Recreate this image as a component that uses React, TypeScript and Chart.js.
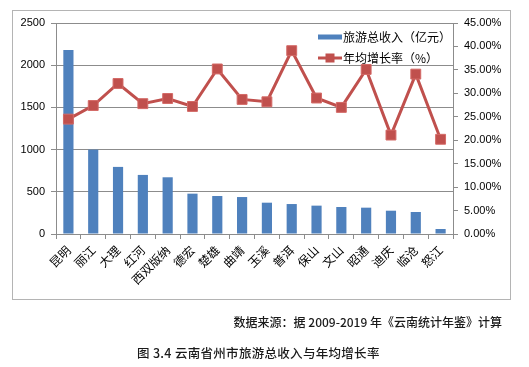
import React, { useEffect, useRef } from "react";
import { Chart, registerables } from "chart.js";

Chart.register(...registerables);

const categories = ["昆明", "丽江", "大理", "红河", "西双版纳", "德宏", "楚雄", "曲靖", "玉溪", "普洱", "保山", "文山", "昭通", "迪庆", "临沧", "怒江"];
const revenue = [2180, 1000, 795, 700, 672, 478, 450, 438, 371, 355, 336, 320, 312, 276, 261, 59];
const growth = [24.5, 27.4, 32.1, 27.8, 28.9, 27.2, 35.2, 28.7, 28.2, 39.1, 29.0, 27.0, 35.1, 21.1, 34.1, 20.2];
const seriesNames = ["旅游总收入（亿元）", "年均增长率（%）"];
const leftMax = 2500;
const leftStep = 500;
const rightMax = 45;
const rightStep = 5;
const sourceText = "数据来源：据 2009-2019 年《云南统计年鉴》计算";
const captionText = "图 3.4 云南省州市旅游总收入与年均增长率";

const BAR = "#4F81BD";
const LINE = "#C0504D";
const GRID = "#8c8c8c";
const CJK = "'Noto Sans CJK SC', sans-serif";
const NUM = "'Liberation Sans', Arial, sans-serif";

const legendPlugin = {
  id: "customLegend",
  afterDraw(chart: any) {
    const { ctx, chartArea } = chart;
    const x0 = chartArea.right - 135;
    const y1 = chartArea.top + 14;
    const y2 = chartArea.top + 35;
    ctx.save();
    ctx.fillStyle = BAR;
    ctx.fillRect(x0, y1 - 2.5, 24, 5);
    ctx.strokeStyle = LINE;
    ctx.lineWidth = 3;
    ctx.beginPath();
    ctx.moveTo(x0, y2);
    ctx.lineTo(x0 + 24, y2);
    ctx.stroke();
    ctx.fillStyle = LINE;
    ctx.fillRect(x0 + 12 - 4.5, y2 - 4.5, 9, 9);
    ctx.fillStyle = "#000";
    ctx.font = "12px " + CJK;
    ctx.textBaseline = "middle";
    ctx.textAlign = "left";
    ctx.fillText(seriesNames[0], x0 + 25, y1);
    ctx.fillText(seriesNames[1], x0 + 25, y2);
    ctx.restore();
  },
};

export default function App() {
  const ref = useRef<HTMLCanvasElement | null>(null);
  useEffect(() => {
    if (!ref.current) return;
    const chart = new Chart(ref.current, {
      type: "bar",
      data: {
        labels: categories,
        datasets: [
          {
            type: "line",
            label: seriesNames[1],
            data: growth,
            yAxisID: "y1",
            borderColor: LINE,
            backgroundColor: LINE,
            borderWidth: 3,
            pointStyle: "rect",
            pointRadius: 7,
            pointBorderWidth: 1,
            pointBorderColor: "#d46a67",
            pointBackgroundColor: LINE,
            tension: 0,
            order: 0,
          } as any,
          {
            type: "bar",
            label: seriesNames[0],
            data: revenue,
            yAxisID: "y",
            backgroundColor: BAR,
            borderWidth: 0,
            categoryPercentage: 1,
            barPercentage: 0.41,
            order: 1,
          } as any,
        ],
      },
      options: {
        responsive: false,
        animation: false,
        devicePixelRatio: 1,
        layout: { padding: { top: 23, left: 0, right: 0, bottom: 0 } },
        plugins: { legend: { display: false }, tooltip: { enabled: false } },
        scales: {
          x: {
            type: "category",
            offset: true,
            grid: { display: true, drawOnChartArea: false, drawTicks: true, tickLength: 5, offset: true, color: GRID },
            border: { display: true, color: GRID, width: 1 },
            ticks: {
              minRotation: 45,
              maxRotation: 45,
              autoSkip: false,
              padding: 4,
              color: "#000",
              font: { family: CJK, size: 12 },
            },
            afterFit: (s: any) => {
              s.height = 133;
            },
          },
          y: {
            position: "left",
            min: 0,
            max: leftMax,
            ticks: {
              stepSize: leftStep,
              padding: 6,
              color: "#000",
              font: { family: NUM, size: 11 },
              callback: (v: any) => String(v),
            },
            grid: { color: GRID, tickLength: 5, drawTicks: true },
            border: { display: true, color: GRID },
            afterFit: (s: any) => {
              s.width = 56;
            },
          },
          y1: {
            position: "right",
            min: 0,
            max: rightMax,
            ticks: {
              stepSize: rightStep,
              padding: 6,
              color: "#000",
              font: { family: NUM, size: 11 },
              callback: (v: any) => Number(v).toFixed(2) + "%",
            },
            grid: { drawOnChartArea: false, color: GRID, tickLength: 5, drawTicks: true },
            border: { display: true, color: GRID },
            afterFit: (s: any) => {
              s.width = 76;
            },
          },
        },
      } as any,
      plugins: [legendPlugin],
    });
    return () => chart.destroy();
  }, []);

  return (
    <div style={{ position: "absolute", left: 0, top: 0, width: 529, height: 367, background: "#fff", overflow: "hidden" }}>
      <div
        style={{
          position: "absolute",
          left: 12,
          top: 10,
          width: 497,
          height: 288,
          border: "1px solid #b4b4b4",
          boxSizing: "content-box",
        }}
      />
      <canvas ref={ref} width={529} height={367} style={{ position: "absolute", left: 0, top: 0, width: 529, height: 367 }} />
      <div
        style={{
          position: "absolute",
          right: 27,
          top: 314,
          fontFamily: CJK,
          fontSize: 12,
          lineHeight: "16px",
          fontWeight: 500,
          color: "#1a1a1a",
          whiteSpace: "nowrap",
        }}
      >
        {sourceText}
      </div>
      <div
        style={{
          position: "absolute",
          left: 137,
          top: 345,
          fontFamily: CJK,
          fontSize: 12.5,
          lineHeight: "16px",
          fontWeight: 500,
          color: "#1a1a1a",
          whiteSpace: "nowrap",
          letterSpacing: "0.3px",
        }}
      >
        {captionText}
      </div>
    </div>
  );
}
